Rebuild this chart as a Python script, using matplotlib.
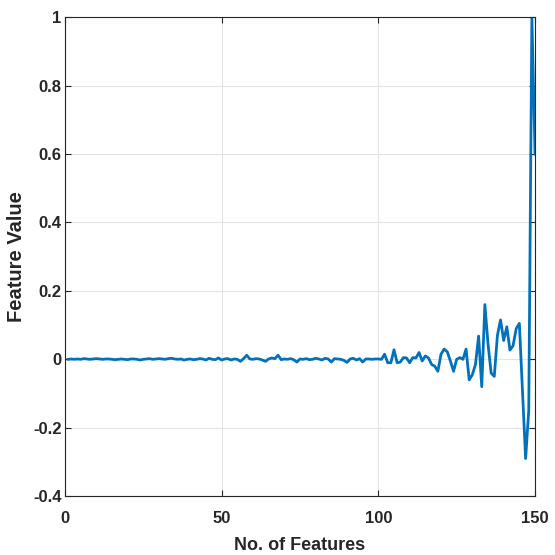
import matplotlib.pyplot as plt
import numpy as np

# feature values for features 1..150
values = [
    0, 0.001, 0, 0.001, 0, 0.002, 0.001, 0, 0.001, 0.002,
    0.001, 0, 0.001, 0.001, 0, -0.001, 0, 0.001, 0, -0.001,
    0.001, 0.001, 0, -0.002, 0, 0.001, 0.002, 0, 0.001, 0.002,
    0.001, 0, 0.002, 0.003, 0.001, 0, 0.001, -0.002, 0, 0.001,
    -0.001, 0, 0.002, 0.001, -0.002, 0.003, 0, -0.001, 0.004, -0.002,
    0.001, 0.002, -0.002, 0.001, 0, -0.006, 0.002, 0.012, 0.001, 0,
    0.002, 0.001, -0.002, -0.006, 0.001, 0.004, 0.002, 0.012, -0.001, 0.001,
    0, 0.002, -0.001, -0.008, 0.001, 0, 0.002, -0.001, 0, 0.003,
    0.001, -0.002, 0.003, 0.001, -0.008, 0.002, 0.001, 0, -0.003, -0.009,
    0.001, 0.003, -0.002, 0.002, -0.008, 0.001, 0.001, 0, 0.001, 0.001,
    0, 0.015, -0.01, -0.01, 0.028, -0.01, -0.008, 0.005, 0.004, -0.01,
    0.005, 0.004, 0.02, -0.005, 0.01, 0.004, -0.015, -0.02, -0.035, 0.015,
    0.03, 0.022, -0.005, -0.035, 0.0, 0.005, 0.0, 0.03, -0.06, -0.045,
    -0.015, 0.068, -0.08, 0.16, 0.045, -0.04, -0.05, 0.07, 0.115, 0.055,
    0.095, 0.027, 0.04, 0.09, 0.105, -0.09, -0.29, -0.15, 1.0, 0.6,
]
features = list(range(1, len(values) + 1))

x_ticks = [0, 50, 100, 150]
y_ticks = [-0.4, -0.2, 0, 0.2, 0.4, 0.6, 0.8, 1]
y_tick_labels = ["-0.4", "-0.2", "0", "0.2", "0.4", "0.6", "0.8", "1"]

plt.rcParams["font.family"] = ["Liberation Sans", "DejaVu Sans"]
plt.rcParams["font.weight"] = "bold"
text_color = "#262626"

fig = plt.figure(figsize=(5.55, 5.55), dpi=100)
ax = fig.add_axes([0.117, 0.106, 0.847, 0.863])

ax.plot(features, values, color="#0072BD", linewidth=2)

ax.set_xlim(0, 150)
ax.set_ylim(-0.4, 1)
ax.set_xticks(x_ticks)
ax.set_yticks(y_ticks)
ax.set_yticklabels(y_tick_labels)
ax.grid(True, color="#e3e3e3", linewidth=0.8)
ax.set_axisbelow(True)
ax.tick_params(direction="in", top=True, right=True, length=4, labelsize=12,
               color=text_color, labelcolor=text_color)
ax.tick_params(axis="x", pad=11)
ax.tick_params(axis="y", pad=2.5)
for lbl in ax.get_xticklabels() + ax.get_yticklabels():
    lbl.set_fontweight("bold")
for spine in ax.spines.values():
    spine.set_color(text_color)
    spine.set_linewidth(0.8)

ax.set_xlabel("No. of Features", fontsize=13, fontweight="bold", color=text_color)
ax.set_ylabel("Feature Value", fontsize=14.5, fontweight="bold", color=text_color)
ax.xaxis.set_label_coords(0.5, -0.086)
ax.yaxis.set_label_coords(-0.082, 0.5)

fig.savefig("out.png", dpi=100)
plt.close(fig)
